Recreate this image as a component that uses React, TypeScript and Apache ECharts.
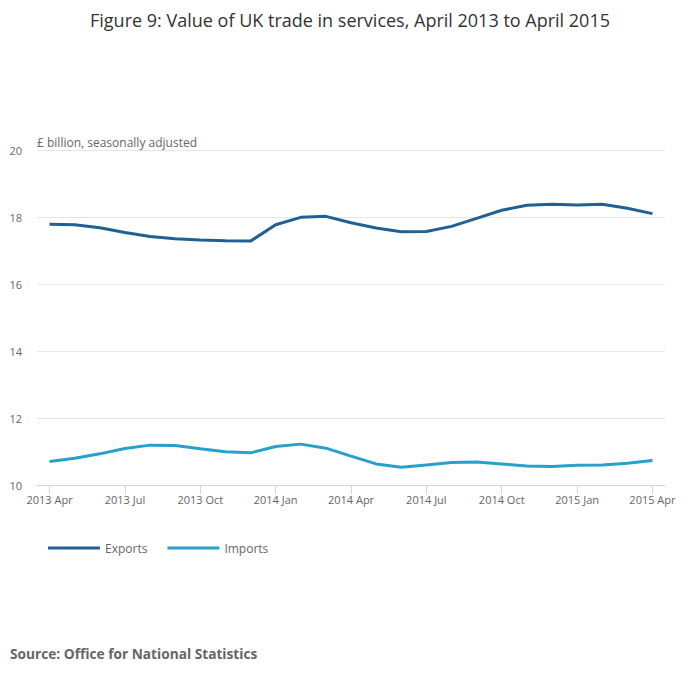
import React, { useEffect, useRef } from "react";
import * as echarts from "echarts";

const categories = [
  "2013 Apr", "2013 May", "2013 Jun", "2013 Jul", "2013 Aug", "2013 Sep", "2013 Oct", "2013 Nov", "2013 Dec",
  "2014 Jan", "2014 Feb", "2014 Mar", "2014 Apr", "2014 May", "2014 Jun", "2014 Jul", "2014 Aug", "2014 Sep",
  "2014 Oct", "2014 Nov", "2014 Dec", "2015 Jan", "2015 Feb", "2015 Mar", "2015 Apr",
];

const exportsValues = [
  17.78, 17.77, 17.68, 17.54, 17.42, 17.35, 17.31, 17.29, 17.28,
  17.77, 17.99, 18.02, 17.83, 17.67, 17.56, 17.57, 17.72, 17.96,
  18.2, 18.35, 18.38, 18.36, 18.38, 18.26, 18.1,
];

const importsValues = [
  10.7, 10.8, 10.93, 11.09, 11.19, 11.18, 11.08, 10.99, 10.96,
  11.15, 11.22, 11.1, 10.86, 10.63, 10.53, 10.6, 10.67, 10.69,
  10.63, 10.57, 10.55, 10.59, 10.6, 10.65, 10.73,
];

const FONT = "'Open Sans', 'Noto Sans', sans-serif";

export default function App() {
  const ref = useRef<HTMLDivElement>(null);
  useEffect(() => {
    document.body.style.margin = "0";
    if (!ref.current) return;
    const chart = echarts.init(ref.current, undefined, { renderer: "svg" });
    chart.setOption({
      animation: false,
      backgroundColor: "#ffffff",
      textStyle: { fontFamily: FONT },
      title: {
        text: "Figure 9: Value of UK trade in services, April 2013 to April 2015",
        left: "center",
        top: 6,
        textStyle: { fontFamily: FONT, fontSize: 18, fontWeight: "normal", color: "#333333" },
      },
      graphic: [
        {
          type: "text",
          left: 37,
          top: 136,
          style: { text: "£ billion, seasonally adjusted", fontFamily: FONT, fontSize: 12, fill: "#666666" },
        },
        {
          type: "text",
          left: 10,
          top: 646,
          style: {
            text: "Source: Office for National Statistics",
            fontFamily: FONT,
            fontSize: 13.7,
            fontWeight: "bold",
            fill: "#666666",
          },
        },
      ],
      legend: {
        left: 48,
        top: 542,
        padding: 0,
        itemWidth: 52,
        itemHeight: 3,
        itemGap: 20,
        icon: "rect",
        textStyle: { fontFamily: FONT, fontSize: 12, color: "#666666" },
        data: ["Exports", "Imports"],
      },
      grid: { left: 37, right: 35, top: 150, bottom: 197, containLabel: false },
      xAxis: {
        type: "category",
        data: categories,
        boundaryGap: true,
        axisLine: { lineStyle: { color: "#ccd6eb" } },
        axisTick: { show: true, alignWithLabel: true, interval: 2, length: 9, lineStyle: { color: "#ccd6eb", width: 1 } },
        axisLabel: { interval: 2, fontFamily: FONT, fontSize: 11, color: "#666666", margin: 9 },
        splitLine: { show: false },
      },
      yAxis: {
        type: "value",
        min: 10,
        max: 20,
        interval: 2,
        axisLine: { show: false },
        axisTick: { show: false },
        axisLabel: { fontFamily: FONT, fontSize: 11, color: "#666666", margin: 15 },
        splitLine: { lineStyle: { color: "#e6e6e6" } },
      },
      series: [
        {
          name: "Exports",
          type: "line",
          data: exportsValues,
          showSymbol: false,
          symbol: "none",
          lineStyle: { width: 3, color: "#206095" },
          itemStyle: { color: "#206095" },
        },
        {
          name: "Imports",
          type: "line",
          data: importsValues,
          showSymbol: false,
          symbol: "none",
          lineStyle: { width: 3, color: "#27a0cc" },
          itemStyle: { color: "#27a0cc" },
        },
      ],
    });
    return () => chart.dispose();
  }, []);
  return <div ref={ref} style={{ width: 700, height: 682 }} />;
}
